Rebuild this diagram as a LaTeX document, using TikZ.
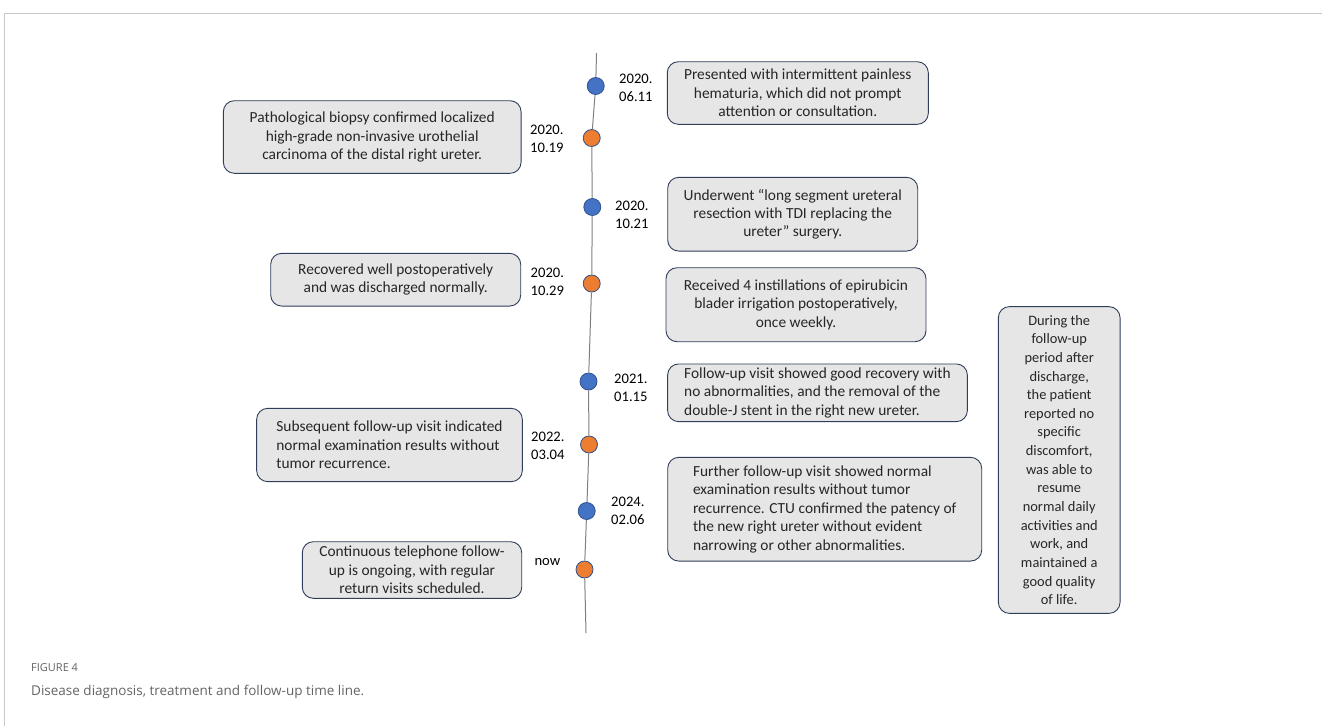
\documentclass[tikz,border=0pt]{standalone}
\usepackage{fontspec}
\setmainfont{Carlito}
\newfontfamily\capfont{Open Sans}
\definecolor{dotblue}{RGB}{68,114,196}
\definecolor{dotorange}{RGB}{237,125,49}
\definecolor{rimblue}{RGB}{47,82,143}
\definecolor{boxfill}{RGB}{231,230,230}
\definecolor{boxrim}{RGB}{47,62,90}
\definecolor{framegray}{RGB}{200,200,200}
\definecolor{capgray}{RGB}{100,100,100}
\begin{document}
\begin{tikzpicture}
    [x=1pt,y=-1pt,
    event/.style={draw=boxrim,fill=boxfill,rounded corners=11pt,line width=0.9pt,inner sep=0pt,
        text=black!85,font=\fontsize{15.4}{18.4}\selectfont},
    dotb/.style={draw=rimblue,fill=dotblue,circle,minimum size=17pt,inner sep=0pt,line width=0.8pt},
    doto/.style={draw=rimblue,fill=dotorange,circle,minimum size=17pt,inner sep=0pt,line width=0.8pt},
    date/.style={anchor=west,align=left,inner sep=0pt,font=\fontsize{14.6}{18}\selectfont}]
		\useasboundingbox (0,0) rectangle (1322,726);
		\draw[framegray,line width=0.8pt] (1322,13) -- (4,13) -- (4,726);

		% dots on the time line
		\node [dotb] (d1) at (595.7,86) {};
		\node [doto] (d2) at (591.7,138) {};
		\node [dotb] (d3) at (592.3,207) {};
		\node [doto] (d4) at (591.7,283.5) {};
		\node [dotb] (d5) at (588.5,381.5) {};
		\node [doto] (d6) at (589,444.5) {};
		\node [dotb] (d7) at (586.7,511) {};
		\node [doto] (d8) at (584.5,569.5) {};
		\coordinate (tltop) at (596.5,53);
		\coordinate (tlbot) at (586,633);
		\draw[gray,line width=1pt] (tltop) -- (d1) -- (d2) -- (d3) -- (d4) -- (d5) -- (d6) -- (d7) -- (d8) -- (tlbot);

		% dates
		\node [date] (t1) at (619,88) {2020.\\06.11};
		\node [date] (t2) at (530,138.5) {2020.\\10.19};
		\node [date] (t3) at (615,214.5) {2020.\\10.21};
		\node [date] (t4) at (530.5,281.5) {2020.\\10.29};
		\node [date] (t5) at (614,388) {2021.\\01.15};
		\node [date] (t6) at (531,446) {2022.\\03.04};
		\node [date] (t7) at (611,510.5) {2024.\\02.06};
		\node [date] (t8) at (534.3,562) {now};

		% events
		\node [event,align=center,minimum width=261pt,minimum height=62.6pt] (e1) at (797.8,93)
			{Presented with intermittent painless\\hematuria, which did not prompt\\attention or consultation.};
		\node [event,align=center,minimum width=297.7pt,minimum height=72.6pt] (e2) at (372.2,137)
			{Pathological biopsy confirmed localized\\high-grade non-invasive urothelial\\carcinoma of the distal right ureter.};
		\node [event,align=center,minimum width=250pt,minimum height=73.7pt] (e3) at (792.7,214.2)
			{Underwent ``long segment ureteral\\resection with TDI replacing the\\ureter'' surgery.};
		\node [event,align=center,minimum width=250pt,minimum height=52.7pt] (e4) at (395.7,279.7)
			{Recovered well postoperatively\\and was discharged normally.};
		\node [event,align=center,minimum width=260pt,minimum height=74pt] (e5) at (796,304.7)
			{Received 4 instillations of epirubicin\\blader irrigation postoperatively,\\once weekly.};
		\node [event,align=left,minimum width=299.7pt,minimum height=57.7pt] (e6) at (817.5,392.8)
			{Follow-up visit showed good recovery with\\no abnormalities, and the removal of the\\double-J stent in the right new ureter.};
		\node [event,align=left,minimum width=265.7pt,minimum height=73.3pt] (e7) at (389.5,445)
			{Subsequent follow-up visit indicated\\normal examination results without\\tumor recurrence.};
		\node [event,align=center,minimum width=219.4pt,minimum height=56.6pt] (e8) at (412,570)
			{Continuous telephone follow-\\up is ongoing, with regular\\return visits scheduled.};
		\node [event,align=left,minimum width=314pt,minimum height=103.7pt] (e9) at (824.7,509.2)
			{Further follow-up visit showed normal\\examination results without tumor\\recurrence. CTU confirmed the patency of\\the new right ureter without evident\\narrowing or other abnormalities.};
		\node [event,align=center,minimum width=121.7pt,minimum height=306.7pt,font=\fontsize{14.4}{18.65}\selectfont] (e10) at (1059.2,460)
			{During the\\follow-up\\period after\\discharge,\\the patient\\reported no\\specific\\discomfort,\\was able to\\resume\\normal daily\\activities and\\work, and\\maintained a\\good quality\\of life.};

		% caption
		\node [anchor=west,inner sep=0pt,text=capgray,font=\capfont\fontsize{11}{13}\selectfont] (fig) at (31,668) {FIGURE 4};
		\node [anchor=west,inner sep=0pt,text=capgray,font=\capfont\fontsize{13.5}{16}\selectfont] (cap) at (31,692)
			{Disease diagnosis, treatment and follow-up time line.};
    \end{tikzpicture}
\end{document}
